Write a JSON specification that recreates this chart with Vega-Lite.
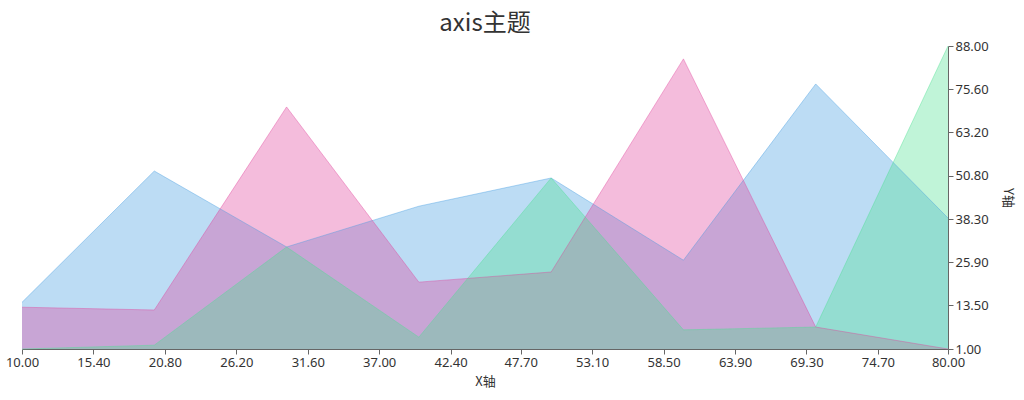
{
  "$schema": "https://vega.github.io/schema/vega-lite/v6.json",
  "width": 926,
  "height": 303,
  "autosize": "none",
  "padding": {"left": 22, "top": 46, "right": 76, "bottom": 51},
  "title": {"text": "axis主题", "fontSize": 24, "font": "Noto Sans CJK SC", "fontWeight": "normal", "color": "#333", "offset": 4},
  "data": {"values": [
    {"s": "A", "x": 10, "y": 14.4}, {"s": "A", "x": 20, "y": 52.1}, {"s": "A", "x": 30, "y": 30.3}, {"s": "A", "x": 40, "y": 42},
    {"s": "A", "x": 50, "y": 50.1}, {"s": "A", "x": 60, "y": 26.5}, {"s": "A", "x": 70, "y": 77.1}, {"s": "A", "x": 80, "y": 38.6},
    {"s": "B", "x": 10, "y": 13}, {"s": "B", "x": 20, "y": 12.2}, {"s": "B", "x": 30, "y": 70.5}, {"s": "B", "x": 40, "y": 20.2},
    {"s": "B", "x": 50, "y": 23.1}, {"s": "B", "x": 60, "y": 84.3}, {"s": "B", "x": 70, "y": 7.3}, {"s": "B", "x": 80, "y": 1},
    {"s": "C", "x": 10, "y": 1}, {"s": "C", "x": 20, "y": 2.1}, {"s": "C", "x": 30, "y": 30.3}, {"s": "C", "x": 40, "y": 4.4},
    {"s": "C", "x": 50, "y": 50.1}, {"s": "C", "x": 60, "y": 6.5}, {"s": "C", "x": 70, "y": 7.3}, {"s": "C", "x": 80, "y": 88}
  ]},
  "mark": {"type": "area", "opacity": 0.35, "line": {"strokeWidth": 1, "strokeOpacity": 0.4}},
  "encoding": {
    "x": {"field": "x", "type": "quantitative", "scale": {"domain": [10, 80], "nice": false},
      "axis": {"values": [10, 15.4, 20.8, 26.2, 31.6, 37, 42.4, 47.7, 53.1, 58.5, 63.9, 69.3, 74.7, 80], "format": ".2f", "grid": false, "title": "X轴", "titleFontWeight": "normal", "titleFontSize": 13, "labelFontSize": 13, "labelFont": "Noto Sans", "titleFont": "Noto Sans CJK SC", "domainColor": "#666", "tickColor": "#666", "labelColor": "#333", "titleColor": "#333", "titlePadding": 6, "labelFlush": false}},
    "y": {"field": "y", "type": "quantitative", "stack": null, "scale": {"domain": [1, 88], "nice": false, "zero": false},
      "axis": {"orient": "right", "values": [1, 13.5, 25.9, 38.3, 50.8, 63.2, 75.6, 88], "format": ".2f", "grid": false, "title": "Y轴", "titleAngle": 90, "titleFontWeight": "normal", "titleFontSize": 13, "labelFontSize": 13, "labelFont": "Noto Sans", "titleFont": "Noto Sans CJK SC", "domainColor": "#666", "tickColor": "#666", "labelColor": "#333", "titleColor": "#333", "titlePadding": 12}},
    "color": {"field": "s", "type": "nominal", "legend": null, "scale": {"domain": ["A", "B", "C"], "range": ["#409be0", "#e0409b", "#4be090"]}},
    "order": {"field": "s"}
  },
  "config": {"view": {"stroke": null}}
}
